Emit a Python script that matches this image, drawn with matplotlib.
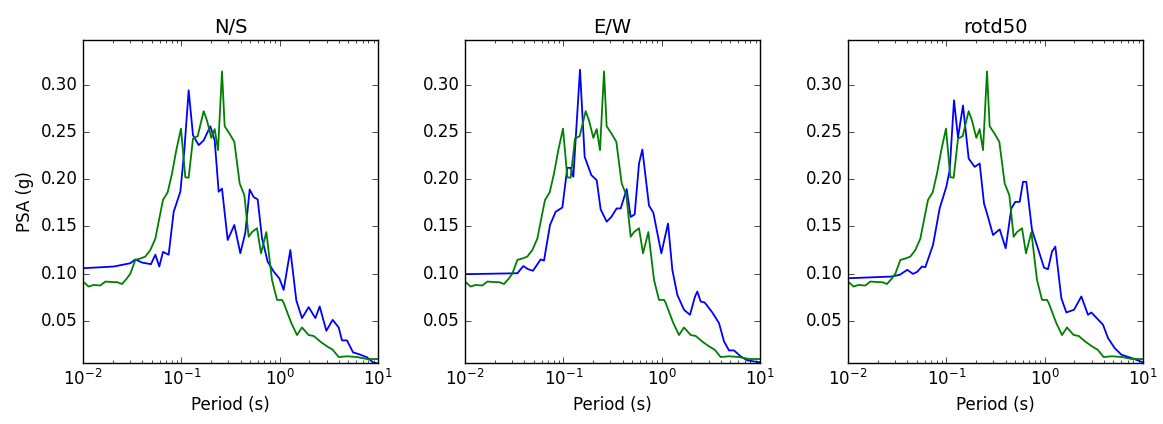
import matplotlib
matplotlib.use('Agg')
import matplotlib.pyplot as plt

plt.style.use('classic')

# green record (same in all three panels)
ref_period = [0.01, 0.0114, 0.0128, 0.0150, 0.0169, 0.0205, 0.0222, 0.0249, 0.0280, 0.0303,
              0.0341, 0.0383, 0.0430, 0.0484, 0.0544, 0.0588, 0.0651, 0.0726, 0.0804, 0.0890,
              0.0992, 0.1098, 0.1187, 0.1314, 0.1466, 0.1687, 0.1824, 0.2019, 0.2183, 0.2360,
              0.2592, 0.2758, 0.3100, 0.3459, 0.3920, 0.4373, 0.4838, 0.5232, 0.5884, 0.6461,
              0.7319, 0.8356, 0.9395, 1.056, 1.098, 1.314, 1.501, 1.687, 1.972, 2.218,
              2.592, 3.030, 3.459, 3.981, 4.838, 6.114, 7.730, 10.0]
ref_psa = [0.0916, 0.0863, 0.0880, 0.0874, 0.0916, 0.0910, 0.0910, 0.0890, 0.0950, 0.1000,
           0.1145, 0.1160, 0.1180, 0.1250, 0.1370, 0.1550, 0.1780, 0.1860, 0.2060, 0.2310,
           0.2535, 0.2020, 0.2015, 0.2430, 0.2455, 0.2720, 0.2620, 0.2437, 0.2530, 0.2307,
           0.3140, 0.2560, 0.2480, 0.2395, 0.1955, 0.1830, 0.1390, 0.1440, 0.1480, 0.1215,
           0.1440, 0.0934, 0.0722, 0.0722, 0.0690, 0.0476, 0.0350, 0.0430, 0.0350, 0.0340,
           0.0280, 0.0230, 0.0195, 0.0117, 0.0125, 0.0117, 0.0096, 0.0096]

ns_period = [0.01, 0.0205, 0.0303, 0.0341, 0.0398, 0.0491, 0.0544, 0.0597, 0.0651, 0.0743,
             0.0836, 0.0977, 0.1073, 0.1187, 0.1314, 0.1501, 0.1687, 0.1972, 0.2183, 0.2397,
             0.2592, 0.2960, 0.3459, 0.3981, 0.4475, 0.4953, 0.5440, 0.5975, 0.6612, 0.7551,
             0.8690, 0.9922, 1.098, 1.284, 1.477, 1.687, 1.972, 2.306, 2.552, 2.983,
             3.459, 3.981, 4.305, 4.838, 5.570, 6.612, 7.730, 8.897, 10.0]
ns_psa = [0.1057, 0.1075, 0.1110, 0.1150, 0.1117, 0.1100, 0.1200, 0.1075, 0.1230, 0.1200,
          0.1655, 0.1867, 0.2307, 0.2940, 0.2465, 0.2360, 0.2410, 0.2560, 0.2410, 0.1867,
          0.1900, 0.1356, 0.1515, 0.1215, 0.1434, 0.1890, 0.1810, 0.1786, 0.1374, 0.1127,
          0.1022, 0.0950, 0.0828, 0.1250, 0.0716, 0.0529, 0.0645, 0.0529, 0.0652, 0.0395,
          0.0511, 0.0430, 0.0293, 0.0293, 0.0167, 0.0142, 0.0114, 0.0061, 0.0047]

ew_period = [0.01, 0.0341, 0.0392, 0.0437, 0.0491, 0.0588, 0.0636, 0.0732, 0.0836, 0.0977,
             0.1098, 0.1187, 0.1264, 0.1477, 0.1648, 0.1926, 0.2183, 0.2397, 0.2758, 0.3076,
             0.3487, 0.3830, 0.4407, 0.4838, 0.5314, 0.5884, 0.6361, 0.7434, 0.8228, 0.9922,
             1.160, 1.284, 1.443, 1.687, 1.941, 2.183, 2.306, 2.492, 2.737, 3.275,
             3.830, 4.305, 4.838, 5.440, 6.361, 7.434, 10.0]
ew_psa = [0.0994, 0.1004, 0.1080, 0.1047, 0.1030, 0.1150, 0.1138, 0.1515, 0.1655, 0.1700,
          0.2120, 0.2120, 0.2025, 0.3158, 0.2236, 0.2043, 0.1990, 0.1680, 0.1550, 0.1600,
          0.1690, 0.1690, 0.1895, 0.1600, 0.1627, 0.2166, 0.2314, 0.1720, 0.1645, 0.1215,
          0.1530, 0.1040, 0.0775, 0.0617, 0.0564, 0.0758, 0.0810, 0.0705, 0.0694, 0.0589,
          0.0476, 0.0282, 0.0187, 0.0187, 0.0124, 0.0082, 0.0061]

rot_period = [0.01, 0.0276, 0.0335, 0.0401, 0.0458, 0.0507, 0.0565, 0.0611, 0.0732, 0.0855,
              0.1000, 0.1081, 0.1197, 0.1314, 0.1477, 0.1687, 0.1941, 0.2183, 0.2416, 0.2653,
              0.2983, 0.3487, 0.4012, 0.4581, 0.5032, 0.5570, 0.6022, 0.6510, 0.7434, 0.8423,
              0.9845, 1.081, 1.187, 1.284, 1.477, 1.661, 1.987, 2.360, 2.758, 2.983,
              3.920, 4.407, 5.151, 6.022, 7.609, 10.0]
rot_psa = [0.0951, 0.0969, 0.0987, 0.1040, 0.0997, 0.1020, 0.1075, 0.1068, 0.1303, 0.1690,
           0.1920, 0.2095, 0.2835, 0.2440, 0.2780, 0.2218, 0.2130, 0.2166, 0.1743, 0.1600,
           0.1409, 0.1469, 0.1268, 0.1690, 0.1760, 0.1760, 0.1972, 0.1972, 0.1462, 0.1286,
           0.1064, 0.1046, 0.1233, 0.1286, 0.0740, 0.0589, 0.0617, 0.0758, 0.0564, 0.0589,
           0.0459, 0.0318, 0.0212, 0.0142, 0.0107, 0.0061]

titles = ['N/S', 'E/W', 'rotd50']
comps = [(ns_period, ns_psa), (ew_period, ew_psa), (rot_period, rot_psa)]
yticks = [0.05, 0.10, 0.15, 0.20, 0.25, 0.30]

fig = plt.figure(figsize=(11.63, 4.24), dpi=100, facecolor='white')
lefts = [83 / 1163, 465 / 1163, 848 / 1163]
for i in range(3):
    ax = fig.add_axes([lefts[i], 0.143, 295 / 1163, 0.762])
    ax.plot(comps[i][0], comps[i][1], color='b', lw=1.3)
    ax.plot(ref_period, ref_psa, color='g', lw=1.3)
    ax.set_xscale('log')
    ax.set_xlim(0.01, 10)
    ax.set_ylim(0.005, 0.347)
    ax.set_yticks(yticks)
    ax.set_title(titles[i], fontsize=14)
    ax.set_xlabel('Period (s)')
    if i == 0:
        ax.set_ylabel('PSA (g)')

fig.savefig('out.png', dpi=100, facecolor='white')
